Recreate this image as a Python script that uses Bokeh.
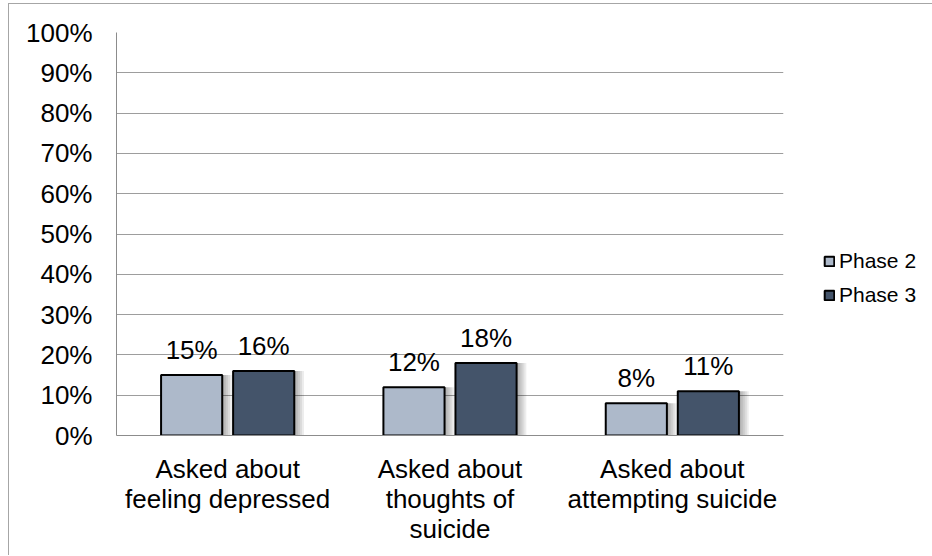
from bokeh.plotting import figure
from bokeh.models import (ColumnDataSource, FactorRange, Range1d, Legend, LegendItem,
                          NumeralTickFormatter, FixedTicker, LabelSet)
from bokeh.core.properties import value
from bokeh.transform import dodge
from bokeh.embed import file_html
from bokeh.resources import INLINE

# Survey results: share of respondents asked each question, by phase
categories = ["Asked about\nfeeling depressed",
              "Asked about\nthoughts of\nsuicide",
              "Asked about\nattempting suicide"]
phase2 = [0.15, 0.12, 0.08]
phase3 = [0.16, 0.18, 0.11]
series_names = ["Phase 2", "Phase 3"]
y_ticks = [0.0, 0.1, 0.2, 0.3, 0.4, 0.5, 0.6, 0.7, 0.8, 0.9, 1.0]

FONT = "Liberation Sans"
COL2 = "#adb9ca"
COL3 = "#44546a"

src = ColumnDataSource(dict(
    cat=categories,
    p2=phase2,
    p3=phase3,
    p2_lbl=[f"{round(v * 100)}%" for v in phase2],
    p3_lbl=[f"{round(v * 100)}%" for v in phase3],
))

p = figure(x_range=FactorRange(*categories, range_padding=0),
           y_range=Range1d(0, 1),
           frame_width=667, frame_height=403,
           output_backend="svg", toolbar_location=None,
           min_border_left=107, min_border_right=0,
           min_border_top=28, min_border_bottom=120)
p.styles = {"margin-left": "8px", "margin-top": "3px",
            "border-left": "1px solid #a6a6a6", "border-top": "1px solid #a6a6a6"}

OFF = 0.162
W = 0.275
PX = 1.0 / 222.0  # one pixel in category units

# soft drop shadow behind each bar
for k in range(1, 6):
    for col, off in (("p2", -OFF), ("p3", OFF)):
        p.vbar(x=dodge("cat", off + k * 1.2 * PX, range=p.x_range), top=col, bottom=0,
               width=W + k * 1.5 * PX, source=src,
               fill_color="black", fill_alpha=0.07, line_color=None)

r2 = p.vbar(x=dodge("cat", -OFF, range=p.x_range), top="p2", bottom=0, width=W,
            source=src, fill_color=COL2, line_color="black", line_width=2)
r3 = p.vbar(x=dodge("cat", OFF, range=p.x_range), top="p3", bottom=0, width=W,
            source=src, fill_color=COL3, line_color="black", line_width=2)

for col, lbl, off in (("p2", "p2_lbl", -OFF), ("p3", "p3_lbl", OFF)):
    p.add_layout(LabelSet(x=dodge("cat", off, range=p.x_range), y=col, text=lbl,
                          source=src, text_align="center", text_baseline="alphabetic",
                          y_offset=16, text_font=value(FONT), text_font_size="26px",
                          text_color="black"))

# axes
p.yaxis.ticker = FixedTicker(ticks=y_ticks)
p.yaxis.formatter = NumeralTickFormatter(format="0%")
p.yaxis.major_tick_line_color = None
p.yaxis.minor_tick_line_color = None
p.yaxis.axis_line_color = "#8c8c8c"
p.yaxis.major_label_standoff = 18
for ax in (p.xaxis, p.yaxis):
    ax.major_label_text_font = FONT
    ax.major_label_text_font_size = "26px"
    ax.major_label_text_color = "black"
p.xaxis.major_tick_line_color = None
p.xaxis.minor_tick_line_color = None
p.xaxis.axis_line_color = "#8c8c8c"
p.xaxis.major_label_standoff = 12
p.xaxis.major_label_text_line_height = 1.0

p.xgrid.grid_line_color = None
p.ygrid.grid_line_color = "#9d9d9d"
p.ygrid.grid_line_width = 1
p.outline_line_color = None

legend = Legend(items=[LegendItem(label=series_names[0], renderers=[r2]),
                       LegendItem(label=series_names[1], renderers=[r3])],
                location=(40, 128), orientation="vertical",
                glyph_width=12, glyph_height=12, label_standoff=4,
                label_text_font=FONT, label_text_font_size="21px",
                label_text_color="black",
                label_height=21, spacing=10, padding=0, margin=0,
                border_line_color=None, background_fill_alpha=0)
p.add_layout(legend, "right")

open("out.html", "w").write(file_html(p, INLINE))
